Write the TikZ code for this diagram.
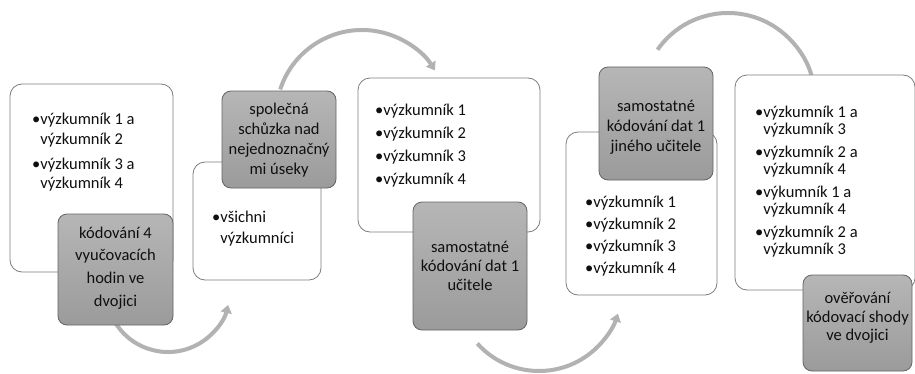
\documentclass[tikz,border=0pt]{standalone}
\usepackage{fontspec}
\setmainfont{Carlito}
\usetikzlibrary{arrows.meta}
\definecolor{arcgray}{RGB}{178,178,178}
\definecolor{wborder}{RGB}{125,125,125}
\definecolor{gborder}{RGB}{100,100,100}
\definecolor{gtop}{RGB}{182,182,182}
\definecolor{gbot}{RGB}{155,155,155}
\definecolor{txt}{RGB}{15,15,15}
\newcommand\bulind{\hphantom{\textbullet}}
\begin{document}
\begin{tikzpicture}[x=1pt,y=1pt,
  wbox/.style={draw=wborder, line width=0.8pt, fill=white, rounded corners=12pt, inner sep=0pt},
  gbox/.style={draw=gborder, line width=0.8pt, top color=gtop, bottom color=gbot, rounded corners=9pt, inner sep=0pt},
  flowarc/.style={draw=arcgray, line width=4pt, -{Triangle[width=11pt,length=8pt]}},
  list/.style={anchor=north west, align=left, inner sep=0pt, text=txt},
  gtext/.style={align=center, inner sep=0pt, text=txt}]
\fill[white] (0,0) rectangle (915,373);
\useasboundingbox (0,0) rectangle (915,373);

% connectors (arcs)
\path (168,83) ++(212:62) coordinate (a1s);
\path (362,257) ++(162:86) coordinate (a2s);
\path (539,85) ++(222:83) coordinate (a3s);
\path (728,274) ++(145:86) coordinate (a4s);
\draw[flowarc] (a1s) arc[start angle=212, end angle=346, radius=62];
\draw[flowarc] (a2s) arc[start angle=162, end angle=32, radius=86];
\draw[flowarc] (a3s) arc[start angle=222, end angle=342, radius=83];
\draw[flowarc] (a4s) arc[start angle=145, end angle=5, radius=86];

% white boxes
\node[wbox, minimum width=163pt, minimum height=188pt] (w1) at (91.5,195) {};
\node[wbox, minimum width=128pt, minimum height=118pt] (w2) at (257,152) {};
\node[wbox, minimum width=182pt, minimum height=154pt] (w3) at (449,218) {};
\node[wbox, minimum width=151pt, minimum height=163pt] (w4) at (641.5,159.5) {};
\node[wbox, minimum width=180pt, minimum height=215pt] (w5) at (825,190.5) {};

% gray boxes
\node[gbox, minimum width=115pt, minimum height=111pt] (g1) at (115.5,103.5) {};
\node[gbox, minimum width=114pt, minimum height=97pt] (g2) at (279,233.5) {};
\node[gbox, minimum width=114pt, minimum height=128pt] (g3) at (470,107) {};
\node[gbox, minimum width=114pt, minimum height=113pt] (g4) at (656,249.5) {};
\node[gbox, minimum width=109pt, minimum height=96pt] (g5) at (857.5,50) {};

% list texts
\node[list, font=\fontsize{16.5}{19.5}\selectfont] (t1) at (32,260)
  {\textbullet výzkumník 1 a\\\bulind výzkumník 2\\[5.5pt]\textbullet výzkumník 3 a\\\bulind výzkumník 4};
\node[list, font=\fontsize{16.5}{21}\selectfont] (t2) at (212,162)
  {\textbullet všichni\\\bulind výzkumníci};
\node[list, font=\fontsize{16.5}{23}\selectfont] (t3) at (375,269)
  {\textbullet výzkumník 1\\\textbullet výzkumník 2\\\textbullet výzkumník 3\\\textbullet výzkumník 4};
\node[list, font=\fontsize{16.5}{22}\selectfont] (t4) at (585,177)
  {\textbullet výzkumník 1\\\textbullet výzkumník 2\\\textbullet výzkumník 3\\\textbullet výzkumník 4};
\node[list, font=\fontsize{16.5}{17}\selectfont] (t5) at (755,267)
  {\textbullet výzkumník 1 a\\\bulind výzkumník 3\\[6pt]\textbullet výzkumník 2 a\\\bulind výzkumník 4\\[6pt]\textbullet výkumník 1 a\\\bulind výzkumník 4\\[6pt]\textbullet výzkumník 2 a\\\bulind výzkumník 3};

% gray texts
\node[gtext, font=\fontsize{16.5}{22.7}\selectfont] (s1) at (115.5,105) {kódování 4\\vyučovacích\\hodin ve\\dvojici};
\node[gtext, font=\fontsize{16.5}{20}\selectfont] (s2) at (279,233) {společná\\schůzka nad\\nejednoznačný\\mi úseky};
\node[gtext, font=\fontsize{16.5}{19}\selectfont] (s3) at (470,107) {samostatné\\kódování dat 1\\učitele};
\node[gtext, font=\fontsize{16.5}{20}\selectfont] (s4) at (656,246) {samostatné\\kódování dat 1\\jiného učitele};
\node[gtext, font=\fontsize{16.5}{18.5}\selectfont] (s5) at (857.5,55) {ověřování\\kódovací shody\\ve dvojici};
\end{tikzpicture}
\end{document}
